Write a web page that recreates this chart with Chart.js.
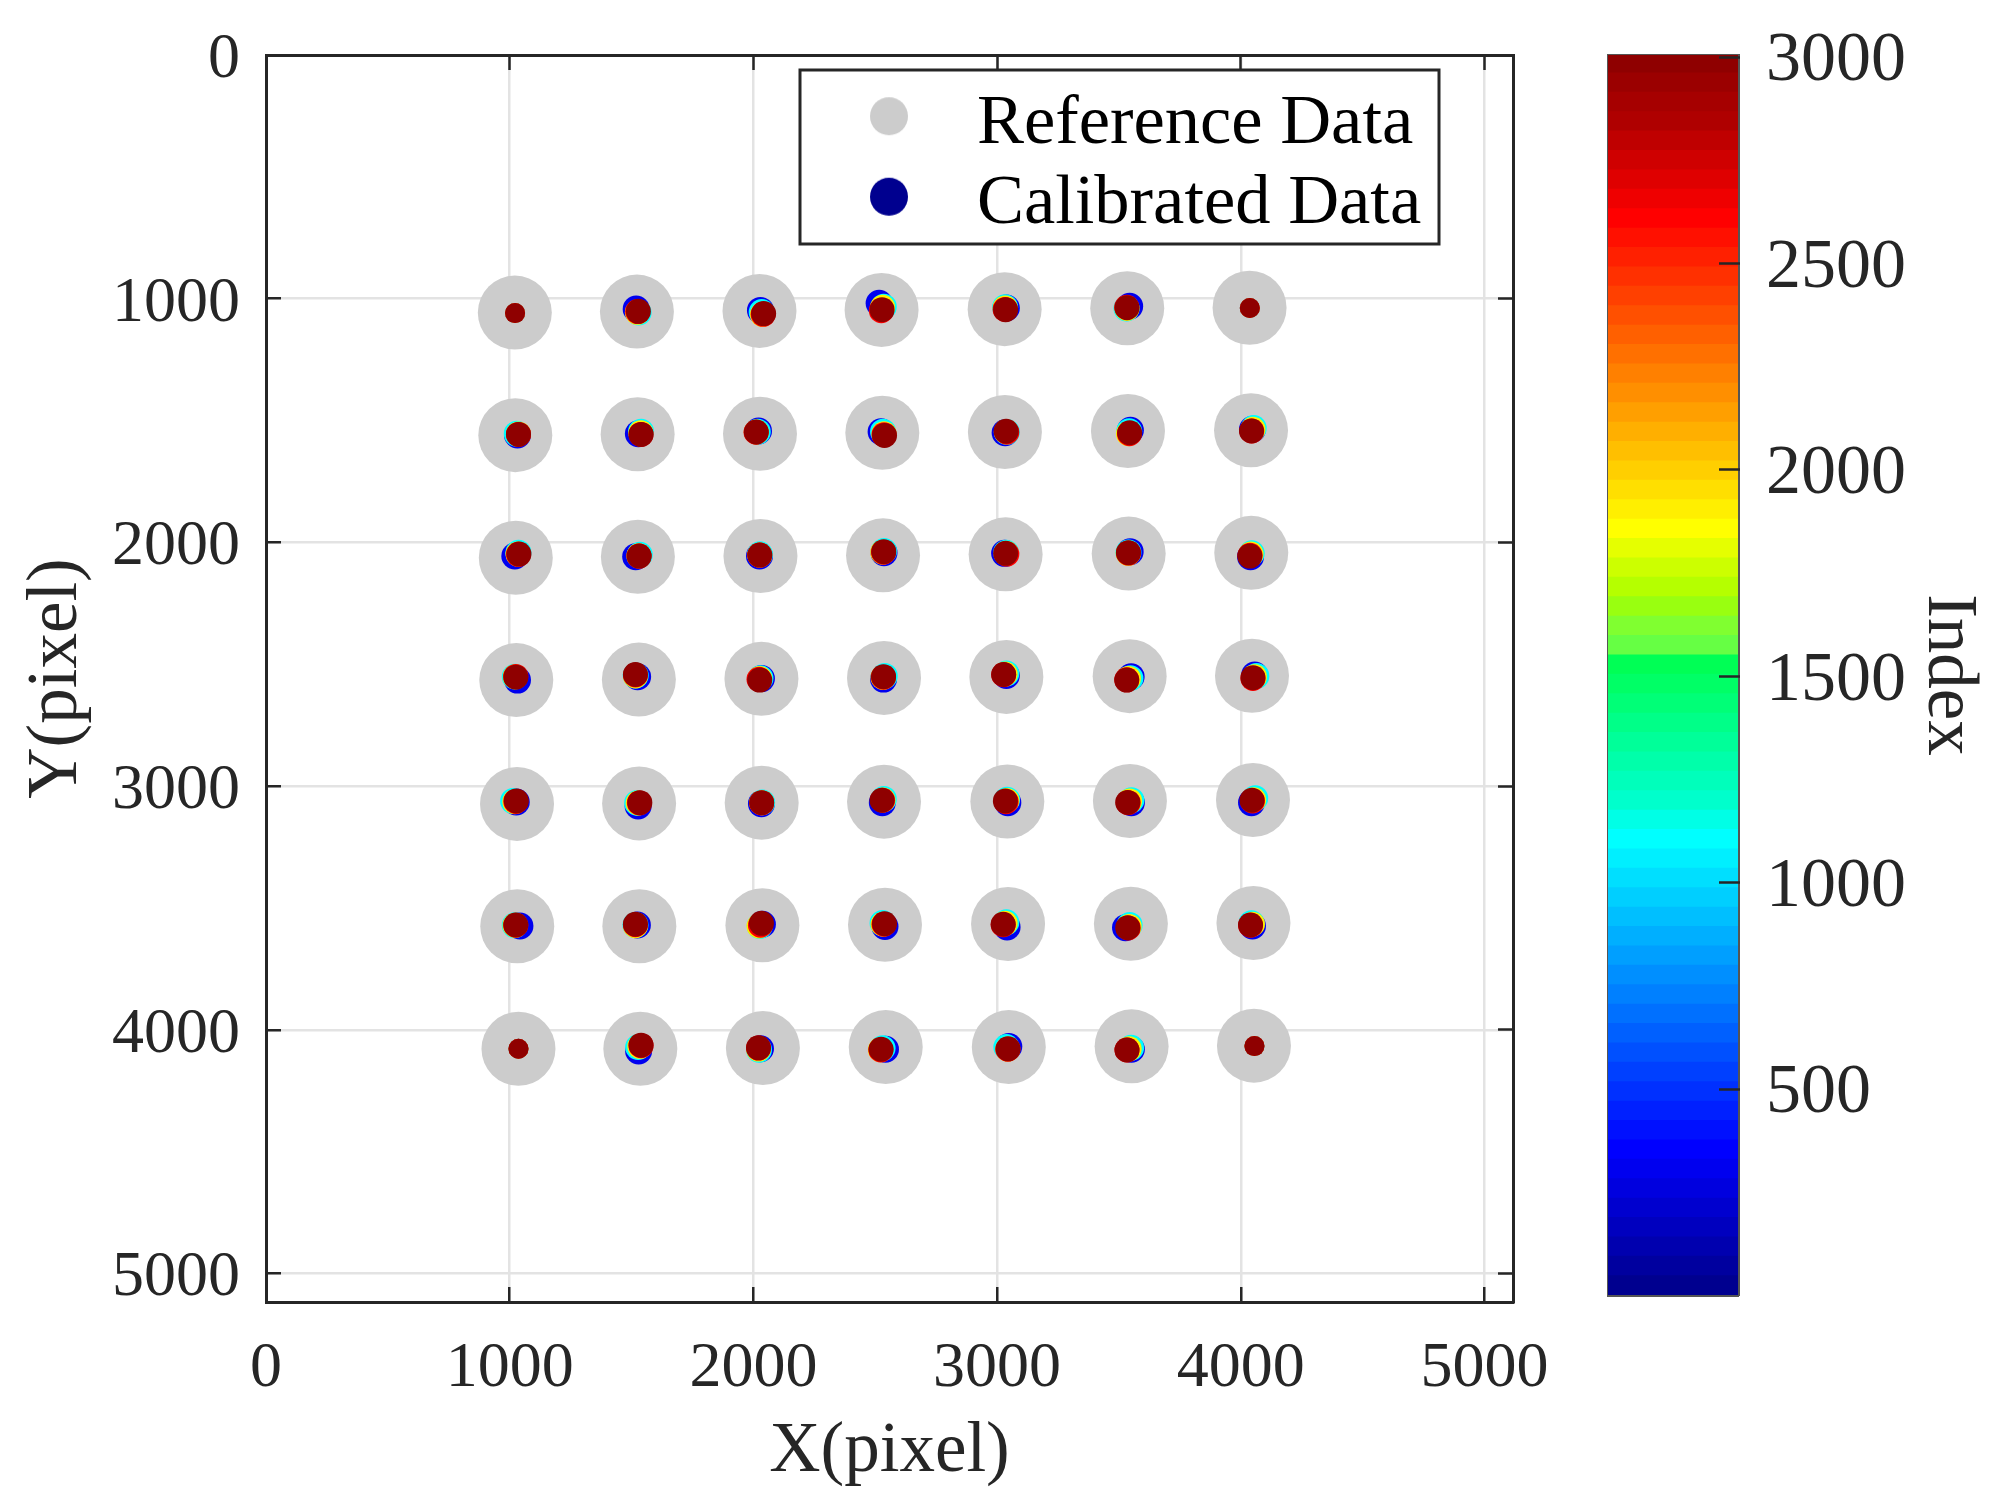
<!DOCTYPE html>
<html>
<head>
<meta charset="utf-8">
<title>Calibrated data</title>
<script src="https://cdn.jsdelivr.net/npm/chart.js@4"></script>
<style>
  html, body { margin: 0; padding: 0; background: #fff; }
  #main { position: absolute; left: 0; top: 0; }
  #bar { position: absolute; left: 1560px; top: 0; }
</style>
</head>
<body>
<canvas id="main" width="1560" height="1510"></canvas>
<canvas id="bar" width="435" height="1510"></canvas>
<script>
'use strict';

// axes
var axisMax = 5117;
var xTicks = [0, 1000, 2000, 3000, 4000, 5000];
var yTicks = [0, 1000, 2000, 3000, 4000, 5000];
var colorTicks = [500, 1000, 1500, 2000, 2500, 3000];
var colorMin = 1;
var colorMax = 3005;

// reference grid, row by row
var refX = [
  1021, 1522, 2025, 2526, 3031, 3534, 4036,
  1023, 1525, 2027, 2529, 3032, 3537, 4042,
  1025, 1526, 2029, 2532, 3035, 3540, 4043,
  1027, 1530, 2033, 2536, 3038, 3544, 4046,
  1030, 1531, 2034, 2536, 3042, 3545, 4050,
  1031, 1532, 2037, 2540, 3045, 3549, 4052,
  1036, 1536, 2039, 2543, 3048, 3552, 4054
];
var refY = [
  1057, 1053, 1050, 1046, 1043, 1039, 1037,
  1560, 1556, 1554, 1550, 1547, 1543, 1540,
  2063, 2059, 2056, 2053, 2049, 2046, 2043,
  2565, 2563, 2560, 2556, 2552, 2549, 2547,
  3073, 3071, 3068, 3064, 3063, 3061, 3057,
  3575, 3575, 3571, 3569, 3566, 3565, 3562,
  4078, 4078, 4075, 4071, 4071, 4068, 4065
];

// calibrated points, same cell order, one pair of arrays per index value
var blueIndex = 300;
var blueX = [
  1022, 1519, 2029, 2516, 3038, 3544, 4037,
  1032, 1528, 2021, 2524, 3033, 3547, 4048,
  1021, 1517, 2025, 2536, 3031, 3546, 4040,
  1032, 1525, 2033, 2534, 3038, 3550, 4057,
  1027, 1527, 2033, 2529, 3044, 3551, 4044,
  1042, 1524, 2037, 2540, 3041, 3527, 4048,
  1036, 1529, 2029, 2542, 3048, 3551, 4056
];
var blueY = [
  1059, 1042, 1048, 1019, 1038, 1031, 1038,
  1559, 1554, 1543, 1546, 1550, 1540, 1536,
  2056, 2059, 2056, 2042, 2045, 2038, 2059,
  2565, 2551, 2559, 2561, 2546, 2551, 2544,
  3065, 3082, 3072, 3068, 3068, 3068, 3068,
  3574, 3570, 3567, 3576, 3578, 3581, 3574,
  4078, 4087, 4078, 4080, 4069, 4080, 4067
];

var cyanIndex = 1100;
var cyanX = [
  1022, 1529, 2034, 2535, 3033, 3531, 4037,
  1029, 1539, 2018, 2532, 3040, 3542, 4053,
  1036, 1534, 2027, 2536, 3037, 3539, 4045,
  1021, 1517, 2029, 2539, 3038, 3547, 4064,
  1014, 1523, 2036, 2535, 3041, 3551, 4059,
  1021, 1516, 2026, 2530, 3038, 3544, 4044,
  1036, 1527, 2023, 2530, 3038, 3550, 4056
];
var cyanY = [
  1059, 1057, 1055, 1033, 1035, 1040, 1038,
  1554, 1546, 1546, 1546, 1547, 1544, 1531,
  2042, 2051, 2049, 2035, 2042, 2041, 2045,
  2551, 2546, 2557, 2548, 2538, 2557, 2548,
  3061, 3069, 3067, 3053, 3056, 3058, 3050,
  3571, 3570, 3574, 3562, 3559, 3570, 3563,
  4078, 4071, 4082, 4076, 4071, 4074, 4067
];

var yellowIndex = 1890;
var yellowX = [
  1022, 1524, 2037, 2530, 3033, 3533, 4037,
  1036, 1538, 2012, 2536, 3038, 3539, 4050,
  1034, 1530, 2026, 2531, 3038, 3538, 4042,
  1023, 1516, 2026, 2532, 3033, 3539, 4056,
  1021, 1527, 2034, 2532, 3040, 3544, 4053,
  1022, 1516, 2023, 2532, 3033, 3542, 4048,
  1036, 1534, 2021, 2521, 3044, 3542, 4056
];
var yellowY = [
  1059, 1056, 1064, 1035, 1038, 1040, 1038,
  1555, 1550, 1547, 1554, 1546, 1554, 1536,
  2048, 2055, 2052, 2040, 2045, 2045, 2048,
  2551, 2548, 2559, 2554, 2540, 2558, 2551,
  3064, 3069, 3068, 3057, 3059, 3061, 3056,
  3571, 3573, 3574, 3567, 3563, 3576, 3567,
  4078, 4068, 4079, 4082, 4079, 4078, 4067
];

var redIndex = 2600;
var redX = [
  1022, 1525, 2040, 2525, 3033, 3532, 4037,
  1036, 1539, 2011, 2536, 3040, 3543, 4045,
  1036, 1531, 2026, 2534, 3040, 3539, 4038,
  1025, 1516, 2023, 2534, 3027, 3532, 4050,
  1025, 1532, 2034, 2530, 3037, 3538, 4048,
  1025, 1516, 2029, 2536, 3025, 3538, 4040,
  1036, 1539, 2021, 2523, 3044, 3533, 4056
];
var redY = [
  1059, 1053, 1064, 1049, 1044, 1035, 1038,
  1557, 1557, 1548, 1558, 1548, 1554, 1543,
  2049, 2056, 2052, 2040, 2048, 2044, 2053,
  2550, 2544, 2562, 2553, 2543, 2564, 2558,
  3063, 3069, 3069, 3058, 3064, 3068, 3061,
  3571, 3569, 3571, 3567, 3569, 3582, 3571,
  4078, 4065, 4075, 4083, 4080, 4083, 4067
];

var lastIndex = 3000;
var lastX = [
  1022, 1528, 2042, 2528, 3035, 3533, 4037,
  1036, 1539, 2012, 2538, 3037, 3544, 4044,
  1038, 1531, 2026, 2535, 3035, 3539, 4037,
  1025, 1516, 2026, 2534, 3027, 3532, 4050,
  1027, 1534, 2034, 2528, 3034, 3536, 4046,
  1025, 1516, 2033, 2538, 3025, 3536, 4040,
  1036, 1539, 2021, 2524, 3045, 3533, 4056
];
var lastY = [
  1059, 1052, 1061, 1045, 1045, 1037, 1038,
  1557, 1557, 1547, 1561, 1544, 1550, 1543,
  2048, 2056, 2052, 2038, 2045, 2042, 2056,
  2553, 2542, 2565, 2551, 2542, 2565, 2555,
  3061, 3068, 3068, 3058, 3061, 3067, 3058,
  3570, 3567, 3563, 3565, 3567, 3581, 3570,
  4078, 4063, 4074, 4080, 4078, 4083, 4067
];

// colorbar bands, bottom to top
var bandLow = [
  1, 48, 95, 142, 189, 236, 283, 330, 377, 424, 471, 518, 565, 612, 659, 706,
  753, 800, 847, 894, 941, 988, 1035, 1082, 1129, 1176, 1223, 1270, 1317, 1364, 1411, 1458,
  1505, 1552, 1599, 1646, 1693, 1740, 1787, 1834, 1881, 1928, 1975, 2022, 2069, 2116, 2163, 2210,
  2257, 2304, 2351, 2398, 2445, 2492, 2539, 2586, 2633, 2680, 2727, 2774, 2821, 2868, 2915, 2962, 3009
];
var bandColor = [
  '#00008f', '#00009f', '#0000af', '#0000bf', '#0000cf', '#0000df', '#0000ef', '#0000ff',
  '#0010ff', '#0020ff', '#0030ff', '#0040ff', '#0050ff', '#0060ff', '#0070ff', '#0080ff',
  '#008fff', '#009fff', '#00afff', '#00bfff', '#00cfff', '#00dfff', '#00efff', '#00ffff',
  '#00ffe6', '#00ffcc', '#00ffbb', '#00ffaa', '#00ff99', '#00ff88', '#00ff77', '#00ff66',
  '#00ff55', '#66ff44', '#80ff30', '#99ff10', '#b5ff00', '#ccff00', '#e5ff00', '#ffff00',
  '#ffef00', '#ffdf00', '#ffcf00', '#ffbf00', '#ffaf00', '#ff9f00', '#ff8f00', '#ff8000',
  '#ff7000', '#ff6000', '#ff5000', '#ff4000', '#ff3000', '#ff2000', '#ff1000', '#ff0000',
  '#ef0000', '#df0000', '#cf0000', '#bf0000', '#af0000', '#a60000', '#9b0000', '#8f0000'
];

var FONT = '"Liberation Serif", "Times New Roman", serif';
var INK = '#262626';
var cornerCells = [0, 6, 42, 48];
var layerRadius = [13.5, 13, 12.5, 12.5, 12.5];

function toPoints(xs, ys) {
  return xs.map(function (x, i) { return { x: x, y: ys[i] }; });
}

function colorOf(index) {
  for (var i = bandColor.length - 1; i >= 0; i--) {
    if (index >= bandLow[i]) return bandColor[i];
  }
  return bandColor[0];
}

// the points are layered low index first, like the original scatter
var calLayers = [
  [blueIndex, blueX, blueY],
  [cyanIndex, cyanX, cyanY],
  [yellowIndex, yellowX, yellowY],
  [redIndex, redX, redY],
  [lastIndex, lastX, lastY]
];
var calPoints = [];
var calColors = [];
calLayers.forEach(function (layer) {
  toPoints(layer[1], layer[2]).forEach(function (p) {
    calPoints.push(p);
    calColors.push(colorOf(layer[0]));
  });
});

// keep the plot box where it is: no room kept for overflowing labels
function noPadding(axis) {
  axis.paddingLeft = 0;
  axis.paddingRight = 0;
  axis.paddingTop = 0;
  axis.paddingBottom = 0;
}
function fixedWidth(w) { return function (axis) { axis.width = w; noPadding(axis); }; }
function fixedHeight(h) { return function (axis) { axis.height = h; noPadding(axis); }; }

function sideAxis(position, fit) {
  return {
    type: 'linear',
    position: position,
    min: 0,
    max: axisMax,
    reverse: position === 'right',
    afterBuildTicks: function (axis) {
      axis.ticks = xTicks.map(function (v) { return { value: v }; });
    },
    ticks: { display: false },
    grid: { drawOnChartArea: false, tickLength: -15, tickColor: INK, tickWidth: 2.5 },
    border: { color: INK, width: 3 },
    afterFit: fit
  };
}

// the tick labels of the y axes sit a little under their ticks
var nudgeLabels = {
  id: 'nudgeLabels',
  beforeDraw: function (chart) {
    chart.scales.y.getLabelItems(chart.chartArea).forEach(function (item) {
      item.options.translation[1] += 5;
    });
  }
};

// colorbar ticks point inward, so they go over the bands
var ticksOverBars = {
  id: 'ticksOverBars',
  afterDatasetsDraw: function (chart) {
    chart.scales.y.drawGrid(chart.chartArea);
  }
};

// legend marker: circle sits above the middle of the text line
function legendDot(color) {
  var c = document.createElement('canvas');
  c.width = 60;
  c.height = 60;
  var ctx = c.getContext('2d');
  ctx.fillStyle = color;
  ctx.beginPath();
  ctx.arc(30, 22, 19, 0, Math.PI * 2);
  ctx.fill();
  return c;
}

// puts the legend inside the plot and draws its frame
var legendBox = { left: 800, top: 70, right: 1439, bottom: 244 };
var legendFrame = {
  id: 'legendFrame',
  beforeDraw: function (chart) {
    var l = chart.legend;
    l.left = 844;
    l.right = legendBox.right;
    l.top = 79;
    l.bottom = legendBox.bottom + 100;
  },
  afterDatasetsDraw: function (chart) {
    var ctx = chart.ctx;
    ctx.save();
    ctx.fillStyle = '#fff';
    ctx.strokeStyle = INK;
    ctx.lineWidth = 3;
    ctx.fillRect(legendBox.left, legendBox.top, legendBox.right - legendBox.left, legendBox.bottom - legendBox.top);
    ctx.strokeRect(legendBox.left, legendBox.top, legendBox.right - legendBox.left, legendBox.bottom - legendBox.top);
    ctx.restore();
    chart.legend.draw();
  }
};

new Chart(document.getElementById('main'), {
  type: 'scatter',
  data: {
    datasets: [{
      label: 'Reference Data',
      data: toPoints(refX, refY),
      backgroundColor: '#cccccc',
      pointRadius: 37,
      pointBorderWidth: 0,
      order: 2
    }, {
      label: 'Calibrated Data',
      data: calPoints,
      pointBackgroundColor: calColors,
      pointRadius: function (c) {
        if (cornerCells.indexOf(c.dataIndex % 49) >= 0) return 10;
        return layerRadius[Math.floor(c.dataIndex / 49)];
      },
      pointBorderWidth: 0,
      order: 1
    }]
  },
  options: {
    responsive: false,
    animation: false,
    devicePixelRatio: 1,
    events: [],
    layout: { padding: { left: 0, right: 47, top: 55, bottom: 0 } },
    scales: {
      x: {
        type: 'linear',
        position: 'bottom',
        min: 0,
        max: axisMax,
        afterBuildTicks: function (axis) {
          axis.ticks = xTicks.map(function (v) { return { value: v }; });
        },
        ticks: {
          padding: 44,
          maxRotation: 0,
          autoSkip: false,
          color: INK,
          font: { family: FONT, size: 64 },
          callback: function (v) { return String(v); }
        },
        grid: { color: '#e3e3e3', lineWidth: 2.5, tickLength: -15, tickColor: INK, tickWidth: 2.5 },
        border: { color: INK, width: 3 },
        title: {
          display: true,
          text: 'X(pixel)',
          color: INK,
          font: { family: FONT, size: 71 },
          padding: { top: 0, bottom: 15 }
        },
        afterFit: fixedHeight(208)
      },
      y: {
        type: 'linear',
        position: 'left',
        reverse: true,
        min: 0,
        max: axisMax,
        afterBuildTicks: function (axis) {
          axis.ticks = yTicks.map(function (v) { return { value: v }; });
        },
        ticks: {
          padding: 41,
          autoSkip: false,
          color: INK,
          font: { family: FONT, size: 64 },
          callback: function (v) { return String(v); }
        },
        grid: { color: '#e3e3e3', lineWidth: 2.5, tickLength: -15, tickColor: INK, tickWidth: 2.5 },
        border: { color: INK, width: 3 },
        title: {
          display: true,
          text: 'Y(pixel)',
          color: INK,
          font: { family: FONT, size: 71 },
          padding: { top: 15, bottom: 0 }
        },
        afterFit: fixedWidth(266)
      },
      xTop: sideAxis('top', fixedHeight(0)),
      yRight: sideAxis('right', fixedWidth(0))
    },
    plugins: {
      tooltip: { enabled: false },
      legend: {
        position: 'chartArea',
        align: 'start',
        labels: {
          usePointStyle: true,
          boxHeight: 27,
          boxWidth: 70,
          padding: 10,
          color: '#000',
          font: { family: FONT, size: 70.5 },
          sort: function (a, b) { return a.datasetIndex - b.datasetIndex; },
          generateLabels: function (chart) {
            var items = Chart.defaults.plugins.legend.labels.generateLabels(chart);
            items.forEach(function (item) {
              item.text = ' ' + item.text;
              item.pointStyle = legendDot(item.datasetIndex === 0 ? '#cccccc' : bandColor[0]);
              item.lineWidth = 0;
            });
            return items;
          }
        }
      }
    }
  },
  plugins: [nudgeLabels, legendFrame]
});

// colorbar
new Chart(document.getElementById('bar'), {
  type: 'bar',
  data: {
    labels: ['Index'],
    datasets: bandColor.map(function (color, i) {
      return {
        data: [[bandLow[i], bandLow[i + 1]]],
        backgroundColor: color,
        borderWidth: 0,
        barPercentage: 1,
        categoryPercentage: 1
      };
    })
  },
  options: {
    responsive: false,
    animation: false,
    devicePixelRatio: 1,
    events: [],
    layout: { padding: { left: 48, right: 0, top: 55, bottom: 0 } },
    scales: {
      x: {
        stacked: true,
        position: 'bottom',
        ticks: { display: false },
        grid: { display: false },
        border: { color: '#555', width: 3 },
        afterFit: fixedHeight(215)
      },
      xTop: {
        type: 'category',
        position: 'top',
        ticks: { display: false },
        grid: { display: false },
        border: { color: '#555', width: 3 },
        afterFit: fixedHeight(0)
      },
      yLeft: {
        type: 'linear',
        position: 'left',
        min: colorMin,
        max: colorMax,
        ticks: { display: false },
        grid: { display: false },
        border: { color: '#555', width: 3 },
        afterFit: fixedWidth(0)
      },
      y: {
        type: 'linear',
        position: 'right',
        min: colorMin,
        max: colorMax,
        afterBuildTicks: function (axis) {
          axis.ticks = colorTicks.map(function (v) { return { value: v }; });
        },
        ticks: {
          padding: 47,
          autoSkip: false,
          color: INK,
          font: { family: FONT, size: 70 },
          callback: function (v) { return String(v); }
        },
        grid: { drawOnChartArea: false, tickLength: -19, tickColor: INK, tickWidth: 2.5 },
        border: { color: '#555', width: 3 },
        title: {
          display: true,
          text: 'Index',
          color: INK,
          font: { family: FONT, size: 71 },
          padding: { top: 5, bottom: 0 }
        },
        afterFit: fixedWidth(257)
      }
    },
    plugins: {
      tooltip: { enabled: false },
      legend: { display: false }
    }
  },
  plugins: [nudgeLabels, ticksOverBars]
});
</script>
</body>
</html>
